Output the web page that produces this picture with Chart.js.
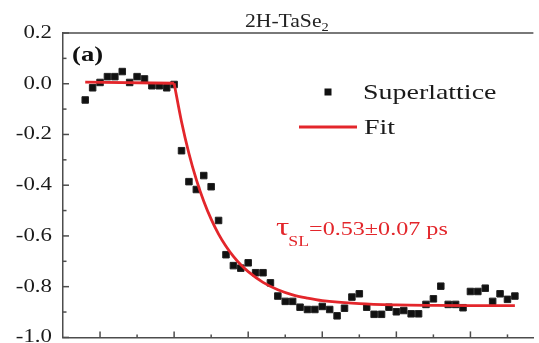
<!DOCTYPE html>
<html>
<head>
<meta charset="utf-8">
<script src="https://cdn.jsdelivr.net/npm/chart.js@4/dist/chart.umd.min.js"></script>
<style>
  html, body { margin: 0; padding: 0; background: #fff; overflow: hidden; }
  #wrap { width: 539px; height: 343px; }
</style>
</head>
<body>
<div id="wrap"><canvas id="c" width="539" height="343"></canvas></div>
<script>
// ---- data ----
const delayPs = [-1.2,-1.1,-1.0,-0.9,-0.8,-0.7,-0.6,-0.5,-0.4,-0.3,-0.2,-0.1,0.0,
  0.1,0.2,0.3,0.4,0.5,0.6,0.7,0.8,0.9,1.0,1.1,1.2,1.3,1.4,1.5,1.6,1.7,1.8,1.9,2.0,
  2.1,2.2,2.3,2.4,2.5,2.6,2.7,2.8,2.9,3.0,3.1,3.2,3.3,3.4,3.5,3.6,3.7,3.8,3.9,4.0,
  4.1,4.2,4.3,4.4,4.5,4.6];
const superlattice = [-0.064,-0.016,0.005,0.028,0.028,0.048,0.005,0.028,0.019,-0.008,-0.008,-0.016,-0.003,
  -0.264,-0.386,-0.417,-0.362,-0.406,-0.539,-0.674,-0.717,-0.727,-0.706,-0.745,-0.745,-0.785,-0.837,-0.858,-0.858,-0.881,-0.890,-0.890,-0.878,
  -0.890,-0.915,-0.885,-0.841,-0.828,-0.881,-0.909,-0.909,-0.881,-0.899,-0.894,-0.907,-0.907,-0.870,-0.848,-0.798,-0.870,-0.870,-0.883,-0.819,
  -0.819,-0.806,-0.858,-0.828,-0.850,-0.837];
const fitDelayPs = [-1.2,0.0,0.1,0.2,0.3,0.4,0.5,0.6,0.7,0.8,0.9,1.0,1.2,1.4,1.6,1.8,2.0,2.5,3.0,3.5,4.0,4.6];
const fitSignal  = [0.006,0.002,-0.150,-0.275,-0.378,-0.463,-0.534,-0.593,-0.641,-0.681,-0.714,-0.741,-0.783,-0.812,-0.832,-0.845,-0.855,-0.867,-0.872,-0.874,-0.875,-0.875];
const seriesNames = ['Superlattice', 'Fit'];
const titleMain = '2H-TaSe', titleSub = '2';
const panelLabel = '(a)';
const tauSymbol = 'τ', tauSub = 'SL', tauText = '=0.53±0.07 ps';

const AXIS = '#4d4d4d';
const RED = '#e3262b';
const SERIF = '"Liberation Serif", "Times New Roman", Times, serif';
const SX = 1.27; // horizontal stretch of the reference's text

function stext(ctx, str, x, y, size, color, sx, align, bold) {
  ctx.save();
  ctx.font = (bold ? 'bold ' : '') + size + 'px ' + SERIF;
  ctx.fillStyle = color;
  ctx.textBaseline = 'alphabetic';
  ctx.textAlign = align || 'left';
  ctx.translate(x, y);
  ctx.scale(sx, 1);
  ctx.fillText(str, 0, 0);
  const w = ctx.measureText(str).width * sx;
  ctx.restore();
  return w;
}

const decor = {
  id: 'decor',
  afterDraw(chart) {
    const ctx = chart.ctx, ca = chart.chartArea;
    const xs = chart.scales.x, ys = chart.scales.y;
    ctx.save();
    ctx.strokeStyle = AXIS;
    ctx.lineWidth = 1.5;
    ctx.beginPath(); ctx.moveTo(ca.left, ca.top); ctx.lineTo(ca.right, ca.top); ctx.stroke();
    for (let k = Math.ceil(xs.min * 2) + 1; k * 0.5 <= xs.max; k++) {
      const px = xs.getPixelForValue(k * 0.5);
      const len = (k % 2 === 0) ? 6 : 3;
      ctx.beginPath(); ctx.moveTo(px, ca.bottom); ctx.lineTo(px, ca.bottom - len); ctx.stroke();
    }
    ys.ticks.forEach(t => {
      const py = ys.getPixelForValue(t.value);
      ctx.beginPath(); ctx.moveTo(ca.left, py); ctx.lineTo(ca.left + 6, py); ctx.stroke();
    });
    for (let i = 0; i < ys.ticks.length - 1; i++) {
      const v = (ys.ticks[i].value + ys.ticks[i + 1].value) / 2;
      const py = ys.getPixelForValue(v);
      ctx.beginPath(); ctx.moveTo(ca.left, py); ctx.lineTo(ca.left + 3.5, py); ctx.stroke();
    }
    ctx.restore();
    ys.ticks.forEach(t => {
      const py = ys.getPixelForValue(t.value);
      stext(ctx, t.label, ca.left - 11, py + 5, 18, '#1a1a1a', SX, 'right');
    });
    let w = stext(ctx, titleMain, 245, 27, 18, '#222', 1.2);
    stext(ctx, titleSub, 245 + w, 31, 12, '#222', 1.2);
    stext(ctx, panelLabel, 72, 61, 21, '#111', SX, 'left', true);
    ctx.save();
    ctx.fillStyle = '#111';
    ctx.fillRect(324.5, 88.5, 7, 7);
    ctx.strokeStyle = RED; ctx.lineWidth = 3;
    ctx.beginPath(); ctx.moveTo(299, 127); ctx.lineTo(357, 127); ctx.stroke();
    ctx.restore();
    stext(ctx, seriesNames[0], 363, 99, 22, '#1a1a1a', SX);
    stext(ctx, seriesNames[1], 364, 134, 22, '#1a1a1a', SX);
    let x = 276;
    x += stext(ctx, tauSymbol, x, 235, 26, RED, SX);
    const ws = stext(ctx, tauSub, x - 1, 246, 14, RED, SX);
    stext(ctx, tauText, x - 1 + ws, 235, 19, RED, SX);
  }
};

const kink = fitDelayPs.indexOf(0.0);
const fitStyle = { showLine: true, borderColor: RED, borderWidth: 2.8, pointRadius: 0, fill: false };

function draw() {
  new Chart(document.getElementById('c'), {
    type: 'scatter',
    data: {
      datasets: [
        Object.assign({
          label: seriesNames[1],
          data: fitDelayPs.slice(0, kink + 1).map((t, i) => ({ x: t, y: fitSignal[i] }))
        }, fitStyle),
        Object.assign({
          label: seriesNames[1],
          data: fitDelayPs.slice(kink).map((t, i) => ({ x: t, y: fitSignal[kink + i] })),
          cubicInterpolationMode: 'monotone'
        }, fitStyle),
        {
          label: seriesNames[0],
          data: delayPs.map((t, i) => ({ x: t, y: superlattice[i] })),
          showLine: false,
          pointStyle: 'rect',
          pointRadius: 4.6,
          backgroundColor: '#111',
          borderColor: '#222',
          borderWidth: 1
        }
      ]
    },
    options: {
      responsive: false,
      animation: false,
      events: [],
      layout: { padding: { top: 33, bottom: 5, left: 0, right: 0 } },
      plugins: { legend: { display: false }, tooltip: { enabled: false }, title: { display: false } },
      scales: {
        x: {
          type: 'linear', min: -1.5, max: 4.85,
          grid: { display: false, drawTicks: false },
          border: { display: true, color: AXIS, width: 1.5 },
          ticks: { display: false },
          afterFit: s => { s.height = 0; s.paddingLeft = 0; s.paddingRight = 0; }
        },
        y: {
          min: -1.0, max: 0.2,
          grid: { display: false, drawTicks: false },
          border: { display: true, color: AXIS, width: 1.5 },
          ticks: { display: false, stepSize: 0.2, callback: v => (Math.abs(v) < 1e-9 ? 0 : v).toFixed(1) },
          afterFit: s => { s.width = 63; s.paddingTop = 0; s.paddingBottom = 0; }
        }
      }
    },
    plugins: [decor]
  });
}

Promise.all([
  document.fonts.load('18px "Liberation Serif"'),
  document.fonts.load('bold 21px "Liberation Serif"')
]).then(draw, draw);
</script>
</body>
</html>
